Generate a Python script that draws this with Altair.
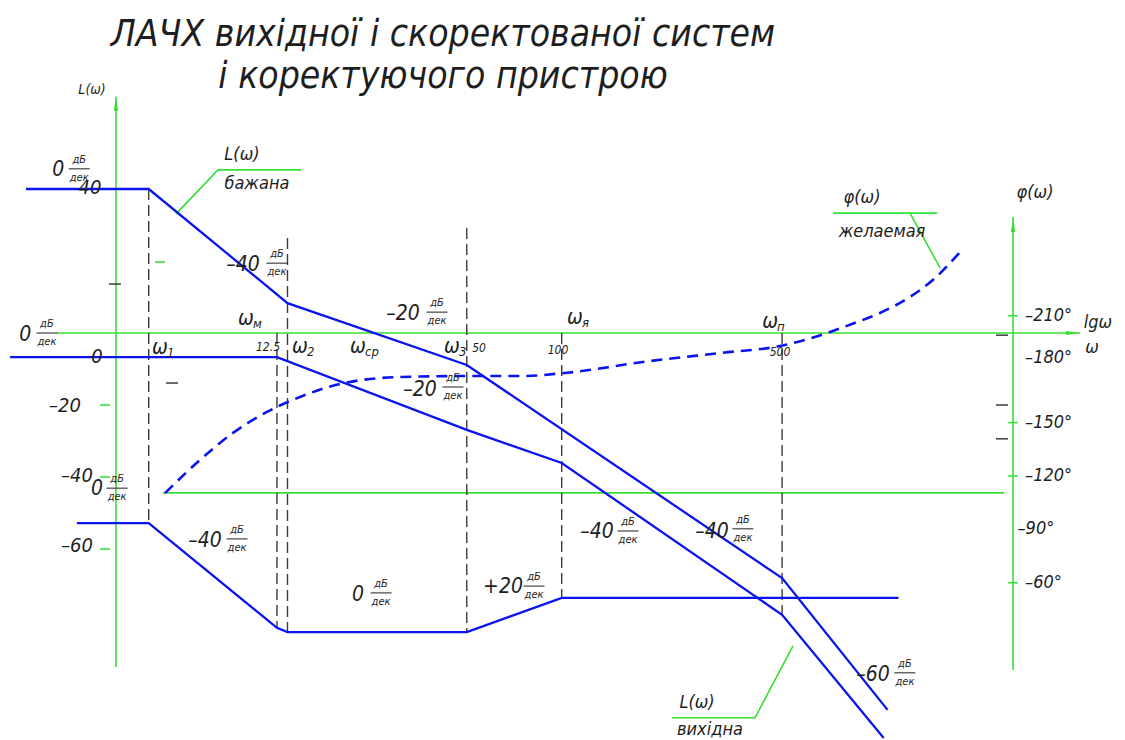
import altair as alt
import pandas as pd

# ---------------------------------------------------------------------------
# Scales of the drawing: frequency is logarithmic, L(ω) in dB on the left,
# φ(ω) in degrees on the right (drawn growing downward).
# ---------------------------------------------------------------------------
W_DOMAIN = [1.654, 6117.0]       # ω, rad/s
DB_DOMAIN = [-113.06, 92.5]      # L(ω), dB
PH_DOMAIN = [-387.4, 28.3]       # φ(ω), deg

BLUE = "#0a14f0"
GREEN = "#35e035"
INK = "#1e1e1e"
DASH_INK = "#3a3a3a"
FONT = "Liberation Sans Narrow, DejaVu Sans Condensed, DejaVu Sans, sans-serif"

# corner frequencies, rad/s
W1, W_K, W2, W3, W_YA, W_P = 4.9, 12.5, 13.5, 50.0, 100.0, 500.0

# desired LAFC (бажана)
desired_w = [2.0, W1, W2, W3, W_P, 1080.0]
desired_db = [40.0, 40.0, 8.3, -8.9, -68.1, -104.7]

# original system LAFC (вихідна)
original_w = [1.78, W_K, W3, W_YA, W_P, 1050.0]
original_db = [-6.7, -6.7, -26.9, -36.1, -78.3, -112.5]

# correcting device LAFC
corrector_w = [2.9, W1, W_K, W2, W3, W_YA, 1170.0]
corrector_db = [-52.8, -52.8, -81.9, -83.1, -83.1, -73.6, -73.6]

# desired phase response φ(ω)
phase_w = [5.52, 7.12, 9.07, 11.62, 14.79, 19.81, 30.71, 52.3, 75.4, 102.5,
           190.6, 317.8, 492.5, 694.0, 821.0, 1022.0, 1272.0, 1528.0, 1834.0]
phase_deg = [-110.4, -129.0, -144.2, -156.0, -164.4, -171.7, -175.6, -176.2,
             -176.2, -177.9, -184.6, -189.1, -193.0, -200.3, -205.0, -211.6,
             -220.6, -231.2, -245.8]

# dashed projection lines at the corner frequencies
guide_w = [W1, W_K, W2, W3, W_YA, W_P]
guide_top_db = [40.0, 0.0, 26.4, 29.2, 0.0, 0.0]
guide_bottom_db = [-52.8, -81.9, -83.1, -83.1, -73.6, -78.3]

# green construction lines: axes, reference line and leaders
axis_l_w, axis_l_db = [3.857, 3.857], [-92.8, 65.6]
axis_w_w, axis_w_db = [2.505, 4405.0], [0.0, 0.0]
axis_phi_w, axis_phi_db = [2700.0, 2700.0], [-93.6, 32.2]
ref_line_w, ref_line_db = [5.44, 2533.0], [-44.4, -44.4]
lead_desired_w, lead_desired_db = [5.98, 8.13, 14.9], [33.1, 45.3, 45.3]
lead_phase_w, lead_phase_db = [725.0, 1550.0], [33.3, 33.3]
lead_phase2_w, lead_phase2_db = [1272.0, 1585.0], [33.3, 18.1]
lead_orig_w, lead_orig_db = [541.5, 410.3, 223.8], [-86.9, -106.9, -106.9]

# arrow heads: (ω, dB, direction)
arrow_w = [3.857, 2700.0, 4183.0]
arrow_db = [63.6, 30.0, 0.0]
arrow_dir = ["up", "up", "right"]

# short tick marks
green_tick_w = [3.56, 3.56, 3.56, 5.32]
green_tick_db = [-20.0, -40.0, -60.0, 19.7]
phase_tick_w = [2700.0, 2700.0, 2700.0, 2700.0]
phase_tick_deg = [-210.0, -150.0, -120.0, -60.0]
dash_mark_w = [3.83, 5.81, 2491.0, 2491.0, 2491.0]
dash_mark_db = [13.6, -13.9, -0.6, -20.0, -29.4]

# L(ω) scale labels
level_text = ["40", "0", "–20", "–40", "–60"]
level_w = [3.19, 3.36, 2.66, 2.90, 2.90]
level_db = [40.3, -6.7, -20.3, -39.7, -59.2]

# slope labels  N дБ/дек
slope_text = ["0", "–40", "0", "–20", "–20", "0", "–40", "0", "+20", "–40", "–40", "–60"]
slope_w = [2.53, 9.75, 1.99, 31.39, 35.53, 3.36, 7.39, 22.59, 65.14, 129.4, 299.7, 970.7]
slope_db = [45.3, 18.9, -0.6, 5.3, -15.8, -43.3, -57.8, -72.8, -70.6, -55.3, -55.3, -95.0]
frac_w = [2.95, 12.5, 2.33, 40.23, 45.2, 3.89, 9.34, 26.73, 81.68, 162.3, 375.7, 1226.0]
frac_db = [45.6, 19.4, 0.0, 5.8, -15.0, -43.1, -57.2, -72.2, -70.3, -55.0, -54.4, -94.4]

# frequency names ω with subscripts
omega_sub = ["м", "1", "\u00a02", "ср", "3", "я", "п"]
omega_w = [9.97, 5.32, 14.79, 22.59, 44.87, 110.2, 457.9]
omega_db = [3.9, -4.2, -3.9, -3.9, -3.9, 4.2, 3.1]

# numeric frequency marks
wnum_text = ["12.5", "50", "100", "500"]
wnum_w = [11.71, 54.7, 97.3, 492.5]
wnum_db = [-3.9, -4.2, -4.7, -5.3]

# captions
caption_text = ["L(ω)", "бажана", "φ(ω)", "желаемая", "L(ω)", "вихідна", "φ(ω)", "lgω", "ω"]
caption_w = [9.68, 10.8, 896.5, 1037.0, 268.6, 295.3, 3171.0, 5022.0, 4806.0]
caption_db = [49.4, 41.4, 37.5, 28.1, -102.8, -110.3, 38.9, 2.8, -4.2]
axis_name_text = ["L(ω)"]
axis_name_w = [3.24]
axis_name_db = [67.5]

# φ(ω) scale labels
phase_label_text = ["–210°", "–150°", "–120°", "–90°", "–60°"]
phase_label_deg = [-210.0, -150.0, -120.0, -90.0, -60.0]
phase_label_w = [2948.0, 2948.0, 2948.0, 2790.0, 2948.0]
phase_label_180 = ["–180°"]
phase_label_180_deg = [-180.0]

title_lines = ["ЛАЧХ вихідної і скоректованої систем", "і коректуючого пристрою"]

# ---------------------------------------------------------------------------
X = alt.X("w:Q", scale=alt.Scale(type="log", domain=W_DOMAIN, nice=False), axis=None)
Y_DB = alt.Y("db:Q", scale=alt.Scale(domain=DB_DOMAIN, nice=False, zero=False), axis=None)
Y_PH = alt.Y("ph:Q", scale=alt.Scale(domain=PH_DOMAIN, reverse=True, nice=False, zero=False),
             axis=None)


def polyline(name_pairs):
    rows = []
    for name, ws, dbs in name_pairs:
        for i, (w, d) in enumerate(zip(ws, dbs)):
            rows.append({"curve": name, "i": i, "w": w, "db": d})
    return pd.DataFrame(rows)


def text_layer(labels, ws, ys, y_enc, y_name="db", **kw):
    style = dict(font=FONT, fontStyle="italic", color=INK, baseline="middle", align="center")
    style.update(kw)
    df = pd.DataFrame({"label": labels, "w": ws, y_name: ys})
    return alt.Chart(df).mark_text(**style).encode(x=X, y=y_enc, text="label:N")


layers = []

# green construction lines
green_df = polyline([
    ("axis_l", axis_l_w, axis_l_db), ("axis_w", axis_w_w, axis_w_db),
    ("axis_phi", axis_phi_w, axis_phi_db), ("ref", ref_line_w, ref_line_db),
    ("lead_desired", lead_desired_w, lead_desired_db),
    ("lead_phase", lead_phase_w, lead_phase_db),
    ("lead_phase2", lead_phase2_w, lead_phase2_db),
    ("lead_orig", lead_orig_w, lead_orig_db),
])
layers.append(alt.Chart(green_df).mark_line(color=GREEN, strokeWidth=1.6).encode(
    x=X, y=Y_DB, detail="curve:N", order="i:Q"))

arrow_df = pd.DataFrame({"w": arrow_w, "db": arrow_db, "dir": arrow_dir})
layers.append(alt.Chart(arrow_df[arrow_df["dir"] == "up"]).mark_point(
    shape="M0,-1L0.3,1L-0.3,1Z", size=196, filled=True, color=GREEN, opacity=1).encode(
    x=X, y=Y_DB))
layers.append(alt.Chart(arrow_df[arrow_df["dir"] == "right"]).mark_point(
    shape="M1,0L-1,-0.3L-1,0.3Z", size=196, filled=True, color=GREEN, opacity=1).encode(
    x=X, y=Y_DB))

# dashed projection lines
guide_df = pd.DataFrame({"w": guide_w, "db": guide_top_db, "db2": guide_bottom_db})
layers.append(alt.Chart(guide_df).mark_rule(color=DASH_INK, strokeWidth=1.4,
                                            strokeDash=[11, 5]).encode(
    x=X, y=Y_DB, y2="db2:Q"))

# LAFC curves
blue_df = polyline([
    ("desired", desired_w, desired_db),
    ("original", original_w, original_db),
    ("corrector", corrector_w, corrector_db),
])
layers.append(alt.Chart(blue_df).mark_line(color=BLUE, strokeWidth=2.3).encode(
    x=X, y=Y_DB, detail="curve:N", order="i:Q"))

# desired phase response
phase_df = pd.DataFrame({"w": phase_w, "ph": phase_deg, "i": range(len(phase_w))})
layers.append(alt.Chart(phase_df).mark_line(color=BLUE, strokeWidth=2.6, strokeDash=[11, 7],
                                            interpolate="monotone").encode(
    x=X, y=Y_PH, order="i:Q"))

# short marks
layers.append(alt.Chart(pd.DataFrame({"w": green_tick_w, "db": green_tick_db})).mark_tick(
    orient="horizontal", size=10, thickness=1.5, color=GREEN, opacity=1).encode(x=X, y=Y_DB))
layers.append(alt.Chart(pd.DataFrame({"w": phase_tick_w, "ph": phase_tick_deg})).mark_tick(
    orient="horizontal", size=10, thickness=1.5, color=GREEN, opacity=1).encode(x=X, y=Y_PH))
layers.append(alt.Chart(pd.DataFrame({"w": dash_mark_w, "db": dash_mark_db})).mark_tick(
    orient="horizontal", size=12, thickness=1.3, color=INK, opacity=1).encode(x=X, y=Y_DB))

# fraction bars for дБ/дек
layers.append(alt.Chart(pd.DataFrame({"w": frac_w, "db": frac_db})).mark_tick(
    orient="horizontal", size=21, thickness=1, color=INK, opacity=1).encode(x=X, y=Y_DB))
layers.append(text_layer(["дБ"] * len(frac_w), frac_w, frac_db, Y_DB, fontSize=11, dy=-9))
layers.append(text_layer(["дек"] * len(frac_w), frac_w, frac_db, Y_DB, fontSize=11, dy=9))

# slope numbers and scale numbers
layers.append(text_layer(slope_text, slope_w, slope_db, Y_DB, fontSize=21))
layers.append(text_layer(level_text, level_w, level_db, Y_DB, fontSize=20))

# ω names
layers.append(text_layer(["ω"] * len(omega_w), omega_w, omega_db, Y_DB, fontSize=21))
layers.append(text_layer(omega_sub, omega_w, omega_db, Y_DB, fontSize=13, align="left",
                         dx=7, dy=5))
layers.append(text_layer(wnum_text, wnum_w, wnum_db, Y_DB, fontSize=12))

# captions
layers.append(text_layer(caption_text, caption_w, caption_db, Y_DB, fontSize=18))
layers.append(text_layer(axis_name_text, axis_name_w, axis_name_db, Y_DB, fontSize=14))

# φ(ω) scale labels
layers.append(text_layer(phase_label_text, phase_label_w, phase_label_deg, Y_PH, y_name="ph",
                         fontSize=18, align="left"))
layers.append(text_layer(phase_label_180, [2948.0], phase_label_180_deg, Y_PH, y_name="ph",
                         fontSize=18, align="left", dy=-11))

# heading
for line, ypos in zip(title_lines, [35, 77]):
    layers.append(alt.Chart(pd.DataFrame({"t": [line]})).mark_text(
        font=FONT, fontStyle="italic", fontSize=37, color=INK, align="center",
        baseline="middle").encode(text="t:N", x=alt.value(443), y=alt.value(ypos)))

chart = (
    alt.layer(*layers)
    .resolve_scale(y="independent")
    .properties(width=1125, height=740, padding=0,
                autosize=alt.AutoSizeParams(type="none"), background="white")
    .configure_view(stroke=None)
)

chart.save("out.html", embed_options={"renderer": "svg", "actions": False})
